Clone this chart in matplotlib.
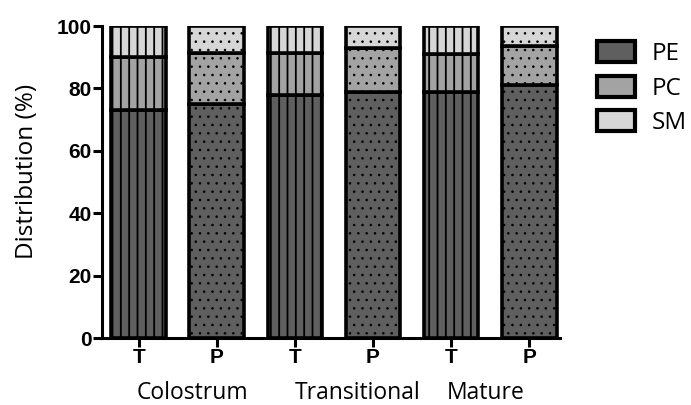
import matplotlib
matplotlib.use("Agg")
import matplotlib.pyplot as plt
from matplotlib.patches import Patch
import numpy as np

groups = ["Colostrum", "Transitional", "Mature"]
tick_labels = ["T", "P", "T", "P", "T", "P"]
pe = [73, 75, 78, 79, 79, 81]
pc = [17, 16.3, 13.5, 14, 12, 12.5]
sm = [10, 8.7, 8.5, 7, 9, 6.5]
components = ["PE", "PC", "SM"]
colors = ["#5f5f5f", "#a3a3a3", "#d6d6d6"]

plt.rcParams['hatch.linewidth'] = 1.3
plt.rcParams['hatch.color'] = 'black'

fig = plt.figure(figsize=(6.91, 4.05), dpi=100)
ax = fig.add_axes([0.1476, 0.1654, 0.810 - 0.1476, 0.9358 - 0.1654])

x = np.arange(len(tick_labels))
hatches = ['||' if t == 'T' else '..' for t in tick_labels]
bottom = np.zeros(len(x))
for vals, col in zip([pe, pc, sm], colors):
    vals = np.array(vals, dtype=float)
    bars = ax.bar(x, vals, bottom=bottom, width=0.70, color=col,
                  edgecolor='black', linewidth=2.6, zorder=2)
    for b, h in zip(bars, hatches):
        b.set_hatch(h)
        if h == '..' and hasattr(b, 'set_hatch_linewidth'):
            b.set_hatch_linewidth(0.6)
    bottom += vals

ax.set_xlim(-0.47, 5.39)
ax.set_ylim(0, 100)
ax.set_yticks([0, 20, 40, 60, 80, 100])
ax.set_xticks(x)
ax.set_xticklabels(tick_labels)
for lab in ax.get_yticklabels() + ax.get_xticklabels():
    lab.set_fontfamily('Liberation Sans')
    lab.set_fontweight('bold')
    lab.set_fontsize(15)
for s in ['top', 'right']:
    ax.spines[s].set_visible(False)
for s in ['left', 'bottom']:
    ax.spines[s].set_linewidth(2.2)
ax.tick_params(axis='both', width=2.2, length=6.5, pad=1)

ax.set_ylabel("Distribution (%)", fontsize=17.5, family='Open Sans')
ax.yaxis.set_label_coords(-0.138, 0.534)

group_x = [0.278, 0.517, 0.703]
for gx, g in zip(group_x, groups):
    fig.text(gx, 0.016, g, ha='center', va='baseline', fontsize=16.5, family='Open Sans')

handles = [Patch(facecolor=c, edgecolor='black', linewidth=3) for c in colors]
leg = fig.legend(handles, components, loc='upper left', bbox_to_anchor=(0.864, 0.898),
                 frameon=False, borderpad=0, borderaxespad=0, handlelength=1.55,
                 handleheight=0.95, labelspacing=0.4, handletextpad=0.7,
                 prop={'family': 'Open Sans', 'size': 17.5})

fig.savefig("out.png", dpi=100)
